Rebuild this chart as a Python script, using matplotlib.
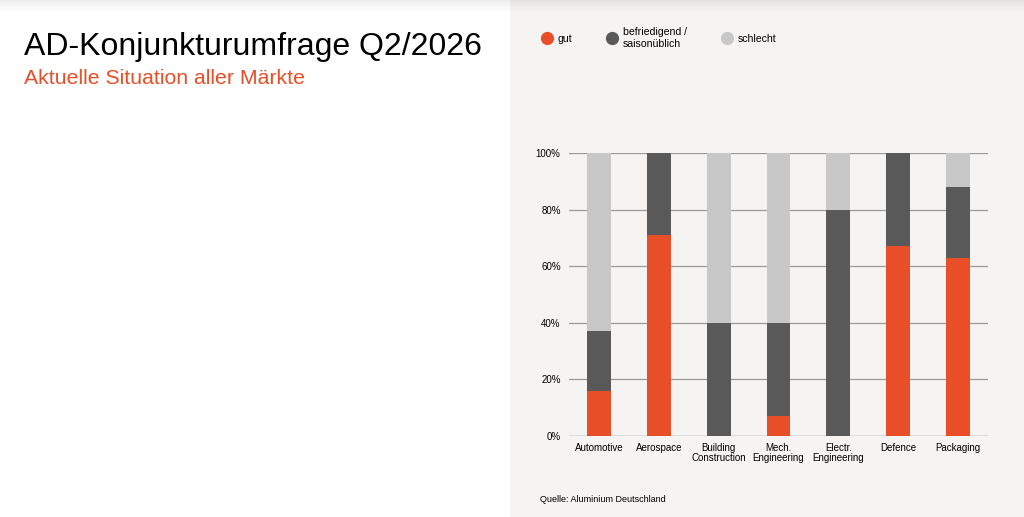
import numpy as np
import matplotlib
matplotlib.use("Agg")
import matplotlib.pyplot as plt
from matplotlib.lines import Line2D
from matplotlib.patches import Rectangle

plt.rcParams['font.family'] = ['Liberation Sans', 'DejaVu Sans']

# data
categories = ["Automotive", "Aerospace", "Building\nConstruction", "Mech.\nEngineering",
              "Electr.\nEngineering", "Defence", "Packaging"]
gut = [16, 71, 0, 7, 0, 67, 63]
befriedigend = [21, 29, 40, 33, 80, 33, 25]
schlecht = [63, 0, 60, 60, 20, 0, 12]
series_labels = ["gut", "befriedigend /\nsaisonüblich", "schlecht"]

ORANGE = "#E84E27"
DARK = "#595959"
LIGHT = "#C8C8C8"
PANEL = "#F5F4F2"

fig = plt.figure(figsize=(10.24, 5.17), dpi=100)
fig.patch.set_facecolor("white")

# grey panel on the right
fig.add_artist(Rectangle((510 / 1024, 0), 1 - 510 / 1024, 1, transform=fig.transFigure,
                         facecolor=PANEL, edgecolor="none", zorder=0))

# faint shadow at the top
shade = fig.add_axes([0, 0.97, 1, 0.03], zorder=0.5)
shade.patch.set_alpha(0)
rgba = np.zeros((20, 1, 4))
rgba[:, 0, 3] = np.linspace(0, 0.07, 20) ** 1.5 / 0.07 ** 0.5
shade.imshow(rgba, aspect="auto", extent=[0, 1, 0, 1], origin="lower")
shade.axis("off")

fig.text(24 / 1024, 1 - 47 / 517, "AD-Konjunkturumfrage Q2/2026", fontsize=23,
         color="black", va="center", ha="left")
fig.text(24 / 1024, 1 - 78 / 517, "Aktuelle Situation aller Märkte", fontsize=15.3,
         color=ORANGE, va="center", ha="left")

ax = fig.add_axes([569 / 1024, 81 / 517, 419 / 1024, 283 / 517])
ax.set_facecolor("none")
x = np.arange(len(categories))
w = 0.4
bottom2 = np.array(gut)
bottom3 = bottom2 + np.array(befriedigend)
ax.bar(x, gut, w, color=ORANGE, zorder=3)
ax.bar(x, befriedigend, w, bottom=bottom2, color=DARK, zorder=3)
ax.bar(x, schlecht, w, bottom=bottom3, color=LIGHT, zorder=3)

ax.set_xlim(-0.5, len(categories) - 0.5)
ax.set_ylim(0, 100)
ax.set_yticks([0, 20, 40, 60, 80, 100])
ax.set_yticklabels([f"{v}%" for v in [0, 20, 40, 60, 80, 100]])
ax.set_xticks(x)
ax.set_xticklabels(categories, fontsize=7, linespacing=1.0)
ax.tick_params(axis="y", labelsize=7, length=0, pad=6)
ax.tick_params(axis="x", length=0, pad=5)
ax.yaxis.grid(True, color="#9a9a9a", linewidth=0.9, zorder=0)
for s in ax.spines.values():
    s.set_visible(False)
ax.axhline(0, color="#dddddd", linewidth=1.5, zorder=2)
ax.get_ygridlines()[0].set_visible(False)

handles = [Line2D([], [], marker="o", linestyle="none", markersize=8.5, color=c)
           for c in [ORANGE, DARK, LIGHT]]
fig.legend(handles, series_labels, loc="center left", bbox_to_anchor=(532 / 1024, 1 - 38 / 517),
           ncol=3, frameon=False, fontsize=7.6, columnspacing=3.3, handletextpad=0.5,
           handlelength=1.0, labelspacing=0.2)

fig.text(540 / 1024, 1 - 499 / 517, "Quelle: Aluminium Deutschland", fontsize=6.5,
         color="black", va="center", ha="left")

fig.savefig("out.png", dpi=100)
